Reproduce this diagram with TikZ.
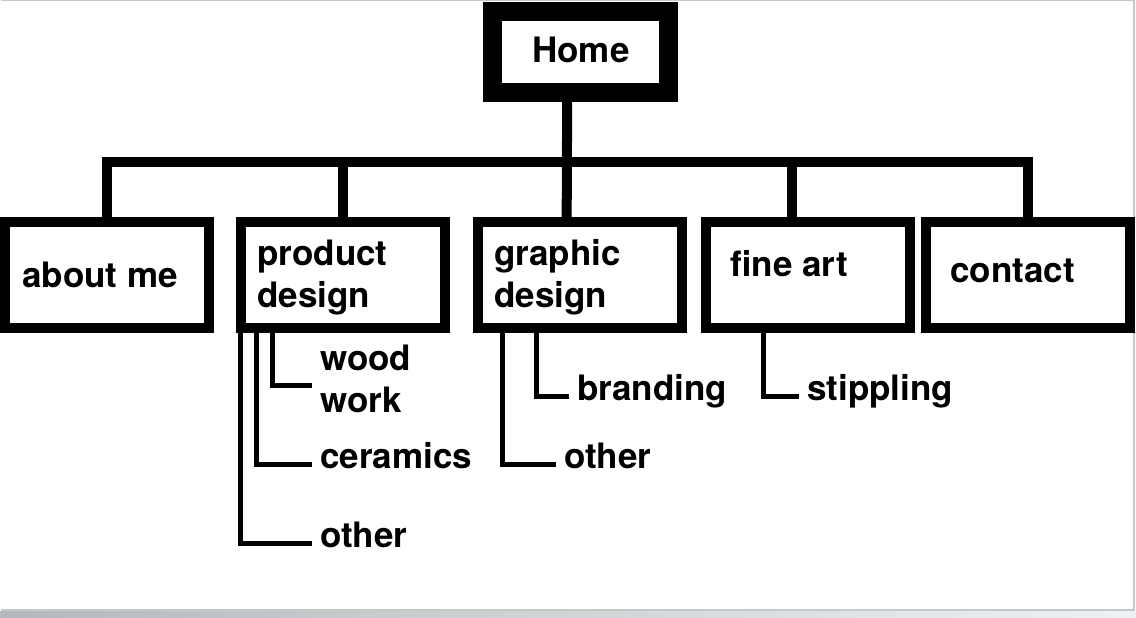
\documentclass[tikz,border=0pt]{standalone}
\usepackage{fontspec}
\setmainfont{TeX Gyre Heros}
\definecolor{stripL}{HTML}{B3B7C0}
\definecolor{stripM}{HTML}{F4DEDD}
\definecolor{stripR}{HTML}{EEF2F5}
\begin{document}
\begin{tikzpicture}[x=0.75pt,y=-0.75pt,
  page/.style={draw=black!22,line width=1.5pt,fill=white},
  menu/.style={shape=rectangle,draw,line width=7.5pt,minimum width=153pt,minimum height=79.5pt,inner sep=0,fill=white},
  homebox/.style={menu,line width=14.25pt,minimum width=132pt,minimum height=60.75pt},
  lbl/.style={anchor=base west,inner sep=0,align=left,font=\fontsize{26.25}{31.5}\selectfont\bfseries},
  sublbl/.style={lbl,inner xsep=6pt},
  link/.style={line width=7.5pt,line join=miter},
  sublink/.style={line width=3.75pt}]
  \useasboundingbox (0,0) rectangle (1136,618);
  % Page
  \draw[page] (1,0) -- (1134,0) -- (1134,610) -- (1,610);
  \shade[left color=stripL,middle color=stripM,right color=stripR] (0,611) rectangle (1136,618);
  % Boxes
  \node[homebox] (home) at (580.5,52) { };
  \node[menu] (about) at (106.5,275) { };
  \node[menu] (pd) at (343,275) { };
  \node[menu] (gd) at (580,275) { };
  \node[menu] (fa) at (808,275) { };
  \node[menu] (contact) at (1028,275) { };
  % Labels
  \node[lbl] (homet) at (532,62) {Home};
  \node[lbl] (aboutt) at (22,287) {about me};
  \node[lbl] (pdt) at (257,307) {product\\design};
  \node[lbl] (gdt) at (494,307) {graphic\\design};
  \node[lbl] (fat) at (730,276) {fine art};
  \node[lbl] (contactt) at (950,282) {contact};
  % Sub pages
  \node[sublbl] (wood) at (312,412) {wood\\work};
  \node[sublbl] (ceramics) at (312,468) {ceramics};
  \node[sublbl] (pdother) at (312,547) {other};
  \node[sublbl] (branding) at (569,400) {branding};
  \node[sublbl] (gdother) at (556,468) {other};
  \node[sublbl] (stippling) at (799,400) {stippling};
  % Tree
  \coordinate (bar) at (0,162);
  \draw[link] (about.north) -- (about.north |- bar) -- (contact.north |- bar) -- (contact.north);
  \draw[link] (pd.north) -- (pd.north |- bar);
  \draw[link] ([xshift=-12pt]fa.north) -- ([xshift=-12pt]fa.north |- bar);
  \draw[link] ([xshift=-10pt]home.south) -- ([xshift=-10pt]gd.north);
  % Sub tree
  \draw[sublink] ([xshift=27pt]pd.south west) |- ([yshift=20.25pt]wood.base west);
  \draw[sublink] ([xshift=15pt]pd.south west) |- (ceramics.mid west);
  \draw[sublink] ([xshift=3pt]pd.south west) |- (pdother.mid west);
  \draw[sublink] ([xshift=47.25pt]gd.south west) |- (branding.mid west);
  \draw[sublink] ([xshift=21.75pt]gd.south west) |- (gdother.mid west);
  \draw[sublink] ([xshift=46.5pt]fa.south west) |- (stippling.mid west);
\end{tikzpicture}
\end{document}
